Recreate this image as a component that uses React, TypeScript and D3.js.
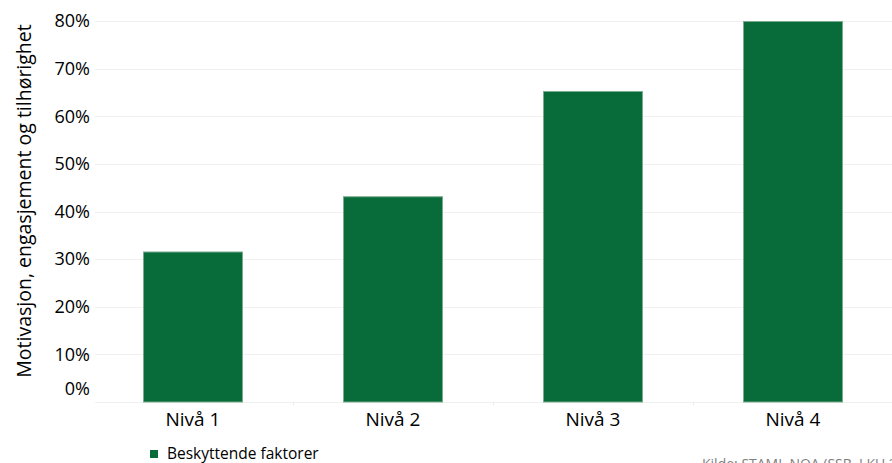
import React from "react";
import * as d3 from "d3";

const categories = ["Nivå 1", "Nivå 2", "Nivå 3", "Nivå 4"];
const values = [0.316, 0.432, 0.653, 0.8];
const yTicks = [0, 0.1, 0.2, 0.3, 0.4, 0.5, 0.6, 0.7, 0.8];
const seriesName = "Beskyttende faktorer";
const yTitle = "Motivasjon, engasjement og tilhørighet";
const source = "Kilde: STAMI, NOA (SSB, LKU 2016)";

const W = 892;
const H = 463;
const FONT = "'Open Sans', sans-serif";
const GREEN = "#086b3a";

export default function App() {
  const x = d3
    .scaleBand<string>()
    .domain(categories)
    .range([93, 893])
    .paddingInner(0.5)
    .paddingOuter(0.25);
  const y = d3.scaleLinear().domain([0, 0.8]).range([402, 21]);
  const fmt = d3.format(".0%");

  return (
    <svg
      width={W}
      height={H}
      style={{ position: "absolute", left: 0, top: 0, background: "#fff" }}
      fontFamily={FONT}
    >
      {/* horizontal gridlines */}
      {yTicks.map((t) => (
        <line
          key={"g" + t}
          x1={95}
          x2={W}
          y1={Math.round(y(t)) + 0.5}
          y2={Math.round(y(t)) + 0.5}
          stroke="#f0f0f0"
          strokeWidth={1}
        />
      ))}
      {/* category separators on the baseline */}
      {categories.slice(0, -1).map((c) => {
        const xx = Math.round((x(c) as number) + x.step() * 0.75) + 0.5;
        return (
          <line key={"s" + c} x1={xx} x2={xx} y1={y(0)} y2={y(0) + 4} stroke="#eeeeee" />
        );
      })}
      {/* y tick labels */}
      {yTicks.map((t) => (
        <text
          key={"l" + t}
          x={90}
          y={t === 0 ? y(t) - 13 : y(t)}
          dy="0.35em"
          textAnchor="end"
          fontSize={18}
          fill="#000"
        >
          {fmt(t)}
        </text>
      ))}
      {/* bars */}
      {categories.map((c, i) => (
        <rect
          key={c}
          x={(x(c) as number) + 0.5}
          y={y(values[i]) + 0.5}
          width={x.bandwidth() - 1}
          height={y(0) - y(values[i]) - 0.5}
          fill={GREEN}
          stroke="#7aab8c"
          strokeWidth={1}
        />
      ))}
      {/* category labels */}
      {categories.map((c) => (
        <text
          key={"c" + c}
          x={(x(c) as number) + x.bandwidth() / 2}
          y={426}
          textAnchor="middle"
          fontSize={19}
          fill="#000"
        >
          {c}
        </text>
      ))}
      {/* y axis title */}
      <text
        transform={`translate(31,201) rotate(-90)`}
        textAnchor="middle"
        fontSize={19.5}
        fill="#000"
      >
        {yTitle}
      </text>
      {/* legend */}
      <rect x={150} y={450} width={8} height={8} fill={GREEN} />
      <text x={167} y={459} fontSize={15.5} fill="#000">
        {seriesName}
      </text>
      {/* source */}
      <text x={702} y={469} fontSize={14} fill="#808080">
        {source}
      </text>
    </svg>
  );
}
